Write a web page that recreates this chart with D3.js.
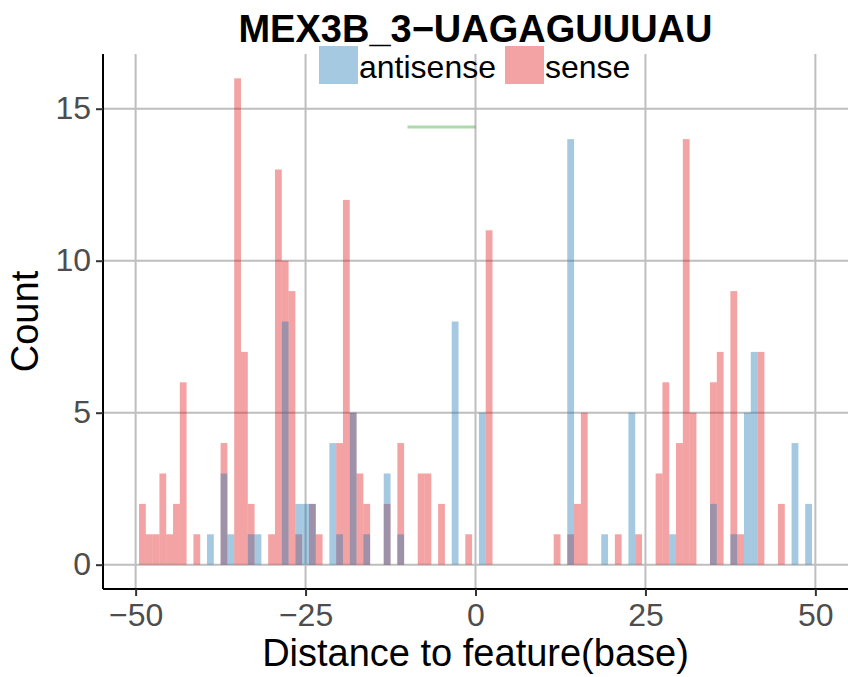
<html>
<head>
<script src="https://d3js.org/d3.v7.min.js"></script>
<style>
  body { margin: 0; background: #fff; }
  text { font-family: "Liberation Sans", Arial, sans-serif; }
</style>
</head>
<body>
<script>
// bins are 1 base wide, centred on each integer distance
var senseDist  = [-49,-48,-47,-46,-45,-44,-43,-41,-37,-35,-34,-33,-30,-29,-28,-27,-26,-24,-23,-20,-19,-18,-17,-16,-13,-11,-8,-7,-5,-1,2,12,14,15,16,21,24,27,28,30,31,32,35,36,38,39,42,45];
var senseCount = [2,1,1,3,1,2,6,1,4,16,7,2,1,13,10,9,1,2,1,4,12,5,3,2,2,4,3,3,2,1,11,1,1,2,5,1,1,3,6,4,14,5,6,7,9,1,7,2];

var antiDist  = [-39,-37,-36,-33,-32,-28,-26,-25,-24,-21,-20,-18,-16,-13,-11,-3,1,14,19,23,29,35,38,40,41,47,49];
var antiCount = [1,3,1,1,1,8,2,2,2,4,1,5,1,3,1,8,5,14,1,5,1,2,1,5,7,4,2];

var xTicks = [-50, -25, 0, 25, 50];
var yTicks = [0, 5, 10, 15];
var motifSpan = [-10, 0];   // green segment
var motifLevel = 14.4;

var title = "MEX3B_3\u2212UAGAGUUUAU";

var W = 848, H = 677;
var pLeft = 103, pRight = 848, pTop = 54, pBottom = 589;

var svg = d3.select("body").append("svg")
  .attr("width", W)
  .attr("height", H)

var x = d3.scaleLinear().domain([-54.8, 54.8]).range([pLeft, pRight]);
var y = d3.scaleLinear().domain([-0.8, 16.8]).range([pBottom, pTop]);

// grid
svg.append("g").selectAll("line")
  .data(yTicks).enter().append("line")
  .attr("x1", pLeft).attr("x2", pRight)
  .attr("y1", function(d) { return y(d); })
  .attr("y2", function(d) { return y(d); })
  .attr("stroke", "#bebebe").attr("stroke-width", 2);
svg.append("g").selectAll("line")
  .data(xTicks).enter().append("line")
  .attr("y1", pTop).attr("y2", pBottom)
  .attr("x1", function(d) { return x(d); })
  .attr("x2", function(d) { return x(d); })
  .attr("stroke", "#bebebe").attr("stroke-width", 2);

var sense = senseDist.map(function(d, i) { return {pos: d, n: senseCount[i]}; });
var anti = antiDist.map(function(d, i) { return {pos: d, n: antiCount[i]}; });

function bars(data, colour) {
  svg.append("g").attr("fill", colour).attr("fill-opacity", 0.4)
    .selectAll("rect")
    .data(data).enter().append("rect")
      .attr("x", function(d) { return x(d.pos - 0.5); })
      .attr("width", x(1) - x(0))
      .attr("y", function(d) { return y(d.n); })
      .attr("height", function(d) { return y(0) - y(d.n); });
}
bars(sense, "#E31A1C");
bars(anti, "#1F78B4");

svg.append("line")
  .attr("x1", x(motifSpan[0])).attr("x2", x(motifSpan[1]))
  .attr("y1", y(motifLevel)).attr("y2", y(motifLevel))
  .attr("stroke", "#33A02C").attr("stroke-opacity", 0.4).attr("stroke-width", 3);

// axes
var xAxis = svg.append("g")
  .attr("transform", "translate(0," + pBottom + ")")
  .call(d3.axisBottom(x).tickValues(xTicks).tickSize(7).tickPadding(7)
        .tickFormat(function(d) { return d < 0 ? "\u2212" + (-d) : d; }));
var yAxis = svg.append("g")
  .attr("transform", "translate(" + pLeft + ",0)")
  .call(d3.axisLeft(y).tickValues(yTicks).tickSize(7).tickPadding(5));

[xAxis, yAxis].forEach(function(a) {
  a.select(".domain").attr("stroke", "#000").attr("stroke-width", 2)
  a.selectAll(".tick line").attr("stroke", "#333").attr("stroke-width", 2);
  a.selectAll(".tick text").attr("fill", "#4d4d4d")
    .style("font-size", "32px").style("font-family", "Liberation Sans, Arial, sans-serif");
});
xAxis.select(".domain").attr("d", "M" + pLeft + ",0H" + pRight);
yAxis.select(".domain").attr("d", "M0," + pTop + "V" + pBottom);

// titles
svg.append("text")
  .attr("x", (pLeft + pRight) / 2).attr("y", 42)
  .attr("text-anchor", "middle")
  .style("font-size", "38px").style("font-weight", "bold")
  .text(title);

svg.append("text")
  .attr("x", (pLeft + pRight) / 2).attr("y", 666)
  .attr("text-anchor", "middle")
  .style("font-size", "38px")
  .text("Distance to feature(base)");

svg.append("text")
  .attr("transform", "translate(38," + ((pTop + pBottom) / 2) + ") rotate(-90)")
  .attr("text-anchor", "middle")
  .style("font-size", "38px")
  .text("Count");

// legend
var legend = [
  {label: "antisense", colour: "#1F78B4", x: 319},
  {label: "sense", colour: "#E31A1C", x: 505}
];
var lg = svg.append("g").selectAll("g").data(legend).enter().append("g");
lg.append("rect")
  .attr("x", function(d) { return d.x; }).attr("y", 46)
  .attr("width", 39).attr("height", 38)
  .attr("fill", function(d) { return d.colour; }).attr("fill-opacity", 0.4);
lg.append("text")
  .attr("x", function(d) { return d.x + 40; }).attr("y", 78)
  .style("font-size", "32px")
  .text(function(d) { return d.label; });
</script>
</body>
</html>
